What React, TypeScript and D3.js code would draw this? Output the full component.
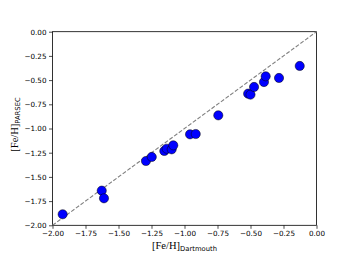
import React, { useEffect, useRef } from 'react';
import * as d3 from 'd3';

// [Fe/H] from Dartmouth isochrones vs PARSEC isochrones
const fehDartmouth = [-1.923, -1.627, -1.610, -1.292, -1.248, -1.153, -1.135, -1.097, -1.085, -0.958, -0.915, -0.744, -0.518, -0.500, -0.473, -0.398, -0.385, -0.284, -0.127];
const fehParsec = [-1.886, -1.642, -1.721, -1.336, -1.294, -1.232, -1.209, -1.215, -1.174, -1.060, -1.057, -0.864, -0.640, -0.650, -0.571, -0.520, -0.461, -0.478, -0.354];
const tickValues = [-2, -1.75, -1.5, -1.25, -1, -0.75, -0.5, -0.25, 0];

const width = 352;
const height = 264;
const margin = { top: 31.7, right: 35.5, bottom: 38.7, left: 52.5 };

export default function App() {
  const svgRef = useRef<SVGSVGElement>(null);

  useEffect(() => {
    if (!svgRef.current) return;
    const svg = d3.select(svgRef.current);
    svg.selectAll('*').remove();

    const iw = width - margin.left - margin.right;
    const ih = height - margin.top - margin.bottom;

    const x = d3.scaleLinear().domain([-2, 0]).range([0, iw]);
    const y = d3.scaleLinear().domain([-2, 0]).range([ih, 0]);

    const g = svg.append('g').attr('transform', `translate(${margin.left},${margin.top})`);

    const fmt = (d: number) => d3.format('.2f')(d).replace('-', '\u2212');

    const xAxis = g.append('g')
      .attr('transform', `translate(0,${ih})`)
      .call(d3.axisBottom(x).tickValues(tickValues).tickFormat(fmt as any).tickSize(3.5).tickPadding(2.5));
    const yAxis = g.append('g')
      .call(d3.axisLeft(y).tickValues(tickValues).tickFormat(fmt as any).tickSize(3.5).tickPadding(2.5));

    [xAxis, yAxis].forEach((ax) => {
      ax.selectAll('text')
        .attr('font-family', '"DejaVu Sans", sans-serif')
        .attr('font-size', 7.2)
        .attr('fill', '#000');
      ax.selectAll('line').attr('stroke', '#000').attr('stroke-width', 0.7);
      ax.select('.domain').remove();
    });

    // frame
    g.append('rect')
      .attr('width', iw)
      .attr('height', ih)
      .attr('fill', 'none')
      .attr('stroke', '#000')
      .attr('stroke-width', 0.8);

    // 1:1 line
    g.append('line')
      .attr('x1', x(-2)).attr('y1', y(-2))
      .attr('x2', x(0)).attr('y2', y(0))
      .attr('stroke', 'gray')
      .attr('stroke-width', 1.1)
      .attr('stroke-dasharray', '4,1.8');

    g.selectAll('circle.pt')
      .data(fehDartmouth.map((d, i) => [d, fehParsec[i]]))
      .enter()
      .append('circle')
      .attr('class', 'pt')
      .attr('cx', (d) => x(d[0]))
      .attr('cy', (d) => y(d[1]))
      .attr('r', 4.6)
      .attr('fill', '#0000ff')
      .attr('stroke', '#000')
      .attr('stroke-width', 0.5);

    // x label
    const xl = svg.append('text')
      .attr('x', margin.left + iw / 2)
      .attr('y', 249)
      .attr('text-anchor', 'middle')
      .attr('fill', '#000');
    xl.append('tspan').attr('font-family', '"Liberation Serif", serif').attr('font-size', 10.5).text('[Fe/H]');
    xl.append('tspan').attr('font-family', '"DejaVu Sans", sans-serif').attr('font-size', 6.8).attr('dy', 1.8).text('Dartmouth');

    // y label
    const yl = svg.append('text')
      .attr('transform', `translate(18,${margin.top + ih / 2 - 4}) rotate(-90)`)
      .attr('text-anchor', 'middle')
      .attr('fill', '#000');
    yl.append('tspan').attr('font-family', '"Liberation Serif", serif').attr('font-size', 10.5).text('[Fe/H]');
    yl.append('tspan').attr('font-family', '"DejaVu Sans", sans-serif').attr('font-size', 6.8).attr('dy', 1.8).text('PARSEC');
  }, []);

  return (
    <svg
      ref={svgRef}
      width={width}
      height={height}
      style={{ position: 'absolute', left: 0, top: 0, background: '#fff' }}
    />
  );
}
